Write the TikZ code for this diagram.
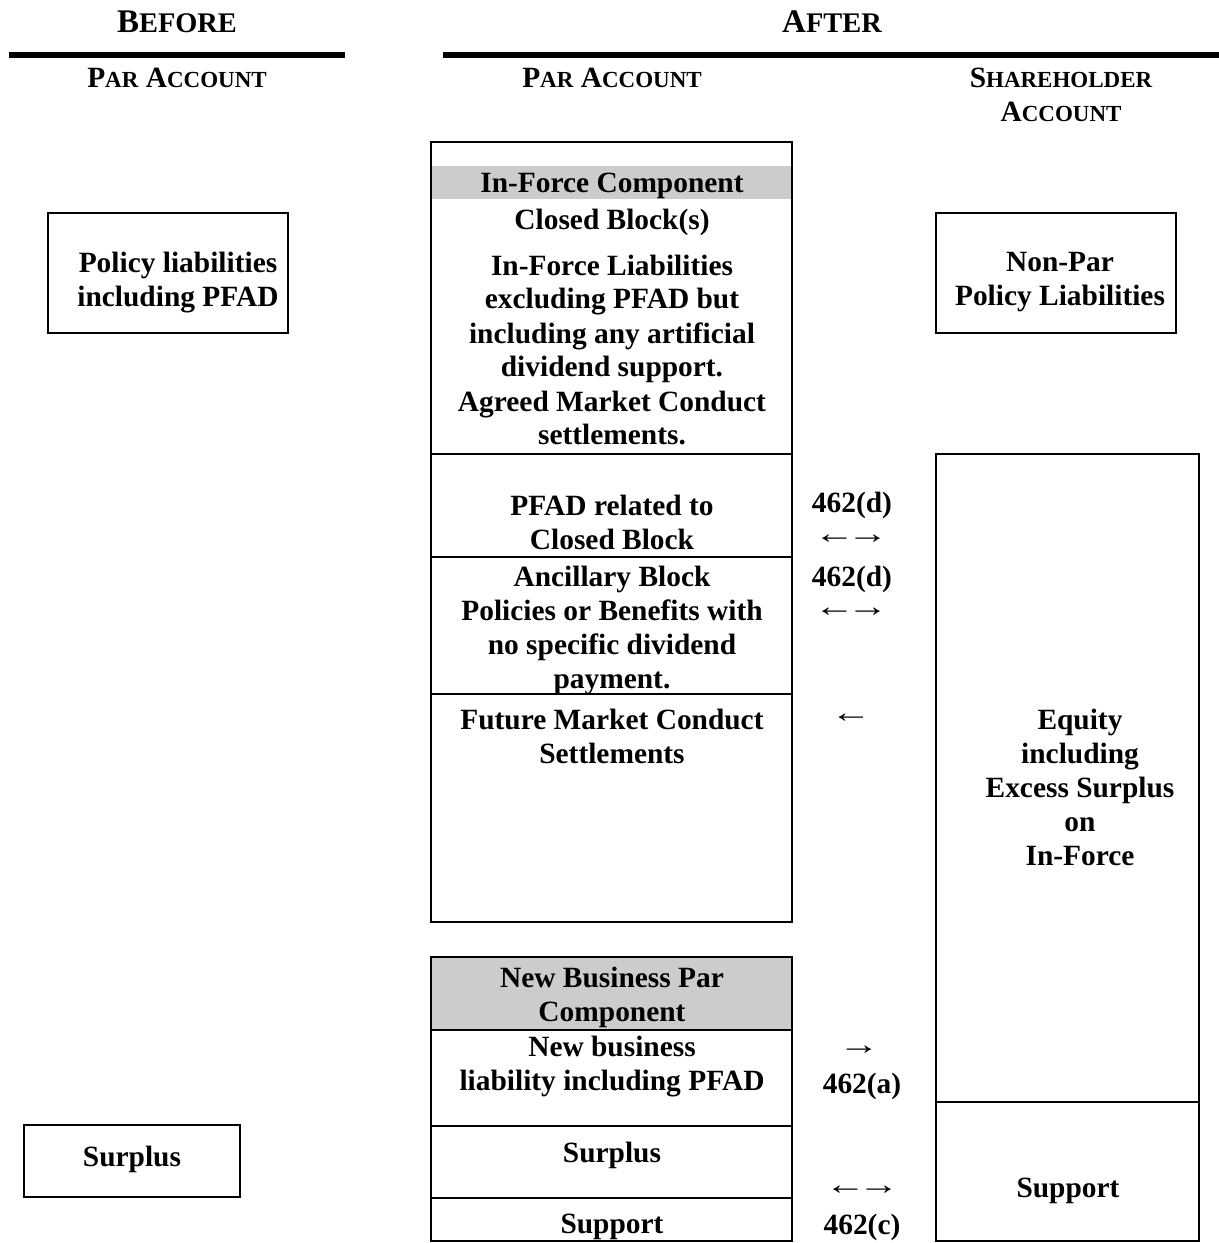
\documentclass[tikz,border=0pt]{standalone}
\usepackage{fontspec}
\setmainfont{Liberation Serif}
\newcommand\hbig[1]{{\fontsize{16.5}{20}\selectfont #1}}
\newcommand\hsmall[1]{{\fontsize{14.2}{17}\selectfont #1}}
\newcommand\sbig[1]{{\fontsize{14.7}{17}\selectfont #1}}
\newcommand\ssmall[1]{{\fontsize{11.5}{17}\selectfont #1}}
\newcommand\wide[1]{\scalebox{1.4}[1]{#1}}
\newcommand\lrarr{\wide{←\kern-2.8pt→}}
\tikzset{
  boxline/.style={draw=black, line width=1.1pt},
  rule/.style={draw=black, line width=3pt},
  band/.style={fill=black!20},
  hdr/.style={font=\fontsize{14.7}{17}\selectfont\bfseries, align=center, inner sep=0pt},
  txt/.style={font=\fontsize{14.7}{17}\selectfont\bfseries, align=center, inner sep=0pt, yshift=-1.5pt},
  arr/.style={font=\fontsize{14.7}{17}\selectfont, inner sep=0pt},
}
\begin{document}
\begin{tikzpicture}[x=0.5pt,y=-0.5pt]
\useasboundingbox (0,0) rectangle (1219,1243);
% headers
\node[hdr] (before) at (177,22) {\hbig{B}\hsmall{EFORE}};
\node[hdr] (after) at (832,22) {\hbig{A}\hsmall{FTER}};
\coordinate (r1a) at (9,55);   \coordinate (r1b) at (345,55);
\coordinate (r2a) at (443,55); \coordinate (r2b) at (1219,55);
\draw[rule] (r1a) -- (r1b);
\draw[rule] (r2a) -- (r2b);
\node[hdr] (parL) at (177,78) {\sbig{P}\ssmall{AR} \sbig{A}\ssmall{CCOUNT}};
\node[hdr] (parM) at (612,78) {\sbig{P}\ssmall{AR} \sbig{A}\ssmall{CCOUNT}};
\node[hdr] (share) at (1061,95) {\sbig{S}\ssmall{HAREHOLDER}\\\sbig{A}\ssmall{CCOUNT}};

% left boxes
\draw[boxline] (48,213) rectangle (288,333);
\node[txt] (pol) at (178,280) {Policy liabilities\\including PFAD};
\draw[boxline] (24,1125) rectangle (240,1197);
\node[txt] (surL) at (132,1156) {Surplus};

% middle top box
\fill[band] (432,166) rectangle (791,199);
\draw[boxline] (431,142) rectangle (792,922);
\draw[boxline] (431,454) -- (792,454);
\draw[boxline] (431,557) -- (792,557);
\draw[boxline] (431,694) -- (792,694);
\node[txt] (ifc) at (612,183) {In-Force Component};
\node[txt] (cb) at (612,219) {Closed Block(s)};
\node[txt] (ifl) at (612,347) {In-Force Liabilities\\excluding PFAD but\\including any artificial\\dividend support.\\Agreed Market Conduct\\settlements.};
\node[txt] (pfad) at (612,519) {PFAD related to\\Closed Block};
\node[txt] (anc) at (612,627) {Ancillary Block\\Policies or Benefits with\\no specific dividend\\payment.};
\node[txt] (fmc) at (612,733) {Future Market Conduct\\Settlements};

% middle bottom box
\fill[band] (432,957) rectangle (792,1029);
\draw[boxline] (431,957) rectangle (792,1241);
\draw[boxline] (431,1030) -- (792,1030);
\draw[boxline] (431,1126) -- (792,1126);
\draw[boxline] (431,1198) -- (792,1198);
\node[txt] (nbp) at (612,994) {New Business Par\\Component};
\node[txt] (nbl) at (612,1064) {New business\\liability including PFAD};
\node[txt] (surM) at (612,1152) {Surplus};
\node[txt] (supM) at (612,1224) {Support};

% arrows column
\node[txt] (d1) at (852,502) {462(d)};
\node[arr] (a1) at (851,539) {\lrarr};
\node[txt] (d2) at (852,576) {462(d)};
\node[arr] (a2) at (851,612) {\lrarr};
\node[arr] (a3) at (851,718) {\wide{←}};
\node[arr] (a4) at (859,1050) {\wide{→}};
\node[txt] (ra) at (862,1083) {462(a)};
\node[arr] (a5) at (862,1190) {\lrarr};
\node[txt] (rc) at (862,1224) {462(c)};

% right boxes
\draw[boxline] (936,213) rectangle (1176,333);
\node[txt] (np) at (1060,279) {Non-Par\\Policy Liabilities};
\draw[boxline] (936,454) rectangle (1199,1241);
\draw[boxline] (936,1102) -- (1199,1102);
\node[txt] (eq) at (1080,784) {Equity\\including\\Excess Surplus\\on\\In-Force};
\node[txt] (supR) at (1068,1188) {Support};
\end{tikzpicture}
\end{document}
